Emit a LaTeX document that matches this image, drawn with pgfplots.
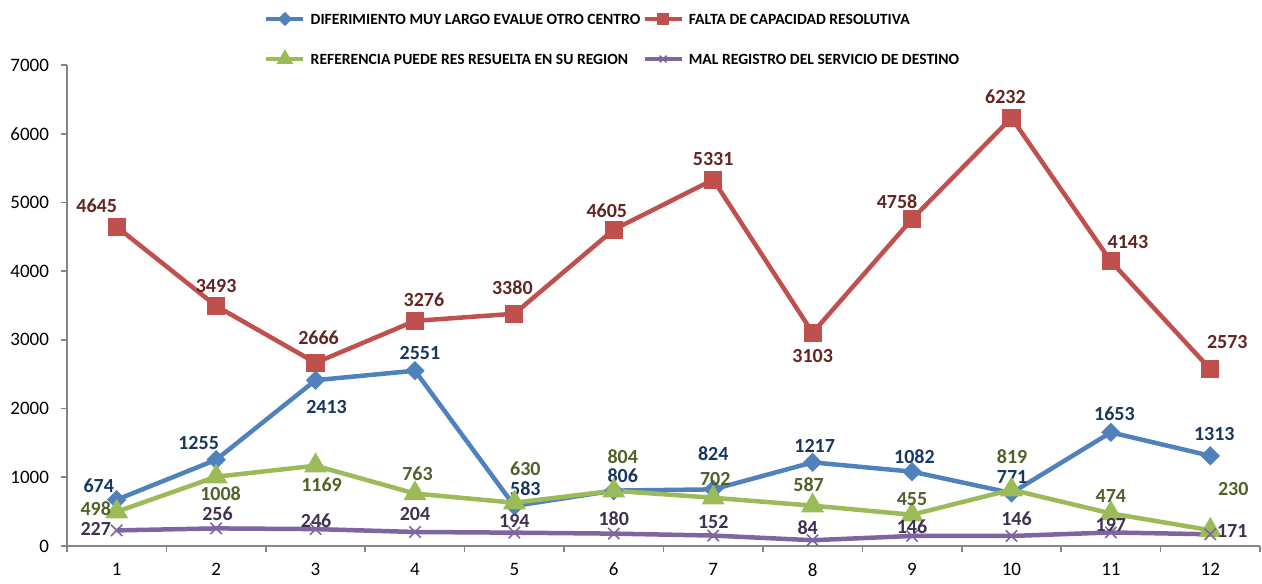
\documentclass[border=0pt]{standalone}
\usepackage{fontspec}
\setmainfont{Carlito}
\usepackage{pgfplots}
\usepackage{pgfplotstable}
\pgfplotsset{compat=1.18}

\definecolor{cblue}{HTML}{4F81BD}
\definecolor{cred}{HTML}{C0504D}
\definecolor{cgreen}{HTML}{9BBB59}
\definecolor{cpurple}{HTML}{8064A2}
\definecolor{lblue}{HTML}{17375E}
\definecolor{lred}{HTML}{632523}
\definecolor{lgreen}{HTML}{4F6228}
\definecolor{lpurple}{HTML}{403152}
\definecolor{axgray}{HTML}{868686}

% x = month, y = value, dx/dy = label offset (pt)
\pgfplotstableread{
x y dx dy
1 674 -9 7
2 1255 -8.75 8.5
3 2413 5.5 -13.6
4 2551 2.5 9
5 583 5.5 8.5
6 806 4.5 7.5
7 824 0 18
8 1217 1 8
9 1082 1.2 7.6
10 771 0.3 7.8
11 1653 1.8 9.5
12 1313 2 11
}\diferimiento

\pgfplotstableread{
x y dx dy
1 4645 -10 10.5
2 3493 0 10
3 2666 1.5 12.5
4 3276 4.5 10.5
5 3380 -1 13
6 4605 -3.5 9.5
7 5331 0 10.5
8 3103 0 -11.5
9 4758 -7.5 8.5
10 6232 -3 10.5
11 4143 8.5 9.5
12 2573 8.5 13.5
}\falta

\pgfplotstableread{
x y dx dy
1 498 -10.5 1.5
2 1008 2.2 -8.6
3 1169 3 -9.6
4 763 1.3 9.8
5 630 5.5 16.8
6 804 4.5 17
7 702 1 9.6
8 587 -2 10.3
9 455 0 7.8
10 819 0.3 16.6
11 474 0 8.5
12 230 11.5 20.6
}\referencia

\pgfplotstableread{
x y dx dy
1 227 -10.5 0.7
2 256 0.7 7.2
3 246 0.3 4
4 204 0 9
5 194 0 5.8
6 180 0 7.3
7 152 0 7
8 84 -2.5 6.4
9 146 0 4.8
10 146 2.5 8.5
11 197 0 3.8
12 171 11 1.6
}\malregistro

\pgfplotsset{
  lbl/.style={
    nodes near coords,
    visualization depends on={\thisrow{dx} \as \dx},
    visualization depends on={\thisrow{dy} \as \dy},
    every node near coord/.append style={anchor=center, inner sep=0pt,
      xshift=\dx pt, yshift=\dy pt, text=#1,
      font=\bfseries\fontsize{10}{12}\selectfont},
  },
}

\begin{document}
\begin{tikzpicture}
\useasboundingbox (-33.5pt,-18.5pt) rectangle (597.5pt,273pt);
\begin{axis}[
  at={(0,0)}, anchor=south west,
  scale only axis, width=596.5pt, height=240.5pt,
  xmin=0.5, xmax=12.5, ymin=0, ymax=7000,
  axis lines=left,
  axis line style={-, draw=axgray, line width=0.8pt},
  tick align=outside,
  major tick length=3pt,
  tick style={draw=axgray, line width=0.8pt},
  xtick={0.5,1.5,...,12.5},
  x tick label as interval,
  xticklabels={1,2,3,4,5,6,7,8,9,10,11,12},
  x tick label style={yshift=-2pt},
  ytick={0,1000,...,7000},
  y tick label style={xshift=-2.5pt},
  /pgf/number format/1000 sep={},
  /pgf/number format/assume math mode=true,
  tick label style={font=\fontsize{9.5}{11}\selectfont, text=black},
  clip=false,
  legend columns=2,
  legend cell align=left,
  legend image code/.code={
    \draw[mark repeat=2, mark phase=2, #1, every mark/.append style={scale=0.6}]
      plot coordinates {(0pt,0pt) (9.25pt,0pt) (18.5pt,0pt)};},
  legend style={at={(rel axis cs:0.165,1.054)}, anchor=west,
    draw=none, fill=none, inner sep=0pt,
    font=\bfseries\fontsize{7.8}{9}\selectfont,
    row sep=13pt,
    nodes={inner sep=0pt, text height=6pt, text depth=1pt},
    /tikz/every odd column/.append style={column sep=2.5pt},
    /tikz/every even column/.append style={column sep=1pt}},
]
\addplot[cblue, line width=2.25pt, mark=square*, mark size=2.3pt,
  mark options={rotate=45, solid}, lbl=lblue]
  table[x=x, y=y] {\diferimiento};
\addlegendentry{DIFERIMIENTO MUY LARGO EVALUE OTRO CENTRO}
\addplot[cred, line width=2.25pt, mark=square*, mark size=3.4pt,
  mark options={solid}, lbl=lred]
  table[x=x, y=y] {\falta};
\addlegendentry{FALTA DE CAPACIDAD RESOLUTIVA}
\addplot[cgreen, line width=2.25pt, mark=triangle*, mark size=4.4pt,
  mark options={solid}, lbl=lgreen]
  table[x=x, y=y] {\referencia};
\addlegendentry{REFERENCIA PUEDE RES RESUELTA EN SU REGION}
\addplot[cpurple, line width=2.25pt, mark=x, mark size=4pt,
  mark options={solid, line width=0.8pt}, lbl=lpurple]
  table[x=x, y=y] {\malregistro};
\addlegendentry{MAL REGISTRO DEL SERVICIO DE DESTINO}
\end{axis}
\end{tikzpicture}
\end{document}
